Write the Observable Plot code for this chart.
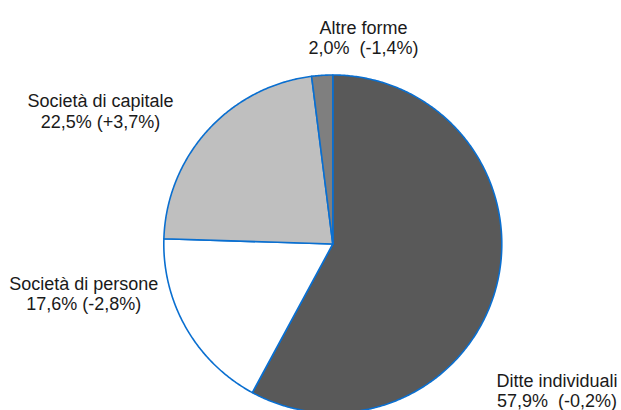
<!DOCTYPE html>
<html><head><meta charset="utf-8">
<script src="https://cdn.jsdelivr.net/npm/d3@7"></script>
<script src="https://cdn.jsdelivr.net/npm/@observablehq/plot@0.6"></script>
<style>body{margin:0;background:#fff;overflow:hidden} #chart{width:621px;height:410px}</style>
</head><body><div id="chart"></div>
<script>
// ---- data ----
const categories = ["Ditte individuali", "Società di persone", "Società di capitale", "Altre forme"];
const shares = [57.9, 17.6, 22.5, 2.0];
const shareLabels = ["57,9%  (-0,2%)", "17,6% (-2,8%)", "22,5% (+3,7%)", "2,0%  (-1,4%)"];

// ---- layout / style ----
const W = 621, H = 410, CX = 332.3, CY = 243.5, R = 169;
const sliceColors = ["#595959", "#ffffff", "#bfbfbf", "#7f7f7f"];
const labelPx = [[556.5, 371.5], [83.3, 274.5], [100, 92], [363, 18.3]]; // text block center-x, cap-top y

const pie = d3.pie().sort(null).value(d => d.share)(categories.map((c, i) => ({category: c, share: shares[i]})));
const pts = [];
for (const a of pie) {
  const cat = a.data.category;
  pts.push({category: cat, x: 0, y: 0});
  const n = Math.max(2, Math.ceil((a.endAngle - a.startAngle) / (Math.PI / 360)));
  for (let k = 0; k <= n; k++) {
    const t = a.startAngle + (a.endAngle - a.startAngle) * k / n;
    pts.push({category: cat, x: Math.sin(t), y: Math.cos(t)});
  }
  pts.push({category: cat, x: 0, y: 0});
}
const labels = categories.map((c, i) => ({
  text: c + "\n" + shareLabels[i],
  x: (labelPx[i][0] - CX) / R,
  y: (CY - labelPx[i][1]) / R
}));

const chart = Plot.plot({
  width: W, height: H,
  margin: 0,
  x: {domain: [-CX / R, (W - CX) / R], axis: null},
  y: {domain: [-(H - CY) / R, CY / R], axis: null},
  color: {domain: categories, range: sliceColors},
  style: {fontFamily: "'Liberation Sans', Arial, sans-serif", background: "#fff"},
  marks: [
    Plot.line(pts, {x: "x", y: "y", z: "category", fill: "category", stroke: "#0a6fd0", strokeWidth: 1.6, strokeLinejoin: "round", curve: "linear"}),
    Plot.text(labels, {x: "x", y: "y", text: "text", textAnchor: "middle", lineAnchor: "top", lineHeight: 1.15, fontSize: 18, fill: "#1a1a1a"})
  ]
});
document.getElementById("chart").append(chart);
</script>
</body></html>
